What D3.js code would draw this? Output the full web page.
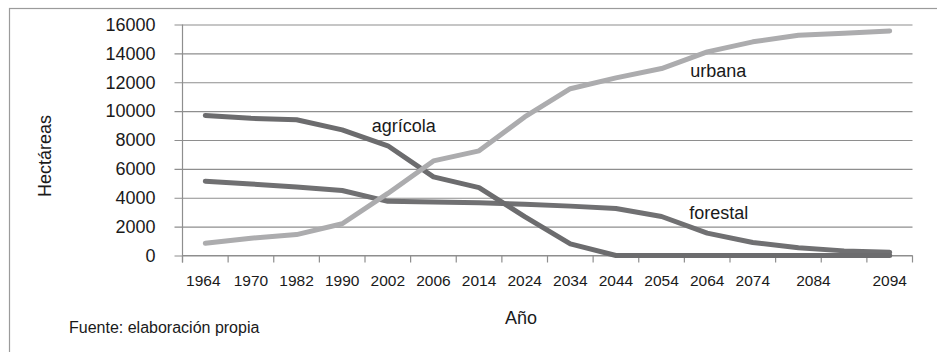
<!DOCTYPE html>
<html>
<head>
<meta charset="utf-8">
<script src="https://cdn.jsdelivr.net/npm/d3@7"></script>
<style>
  html, body { margin: 0; padding: 0; background: #fff; }
  svg { display: block; font-family: "Liberation Sans", Arial, Helvetica, sans-serif; }
</style>
</head>
<body>
<svg id="chart" width="937" height="352"></svg>
<script>
// Superficie por uso del suelo (hectáreas), serie observada y proyectada
const tickLabels = ["1964","1970","1982","1990","2002","2006","2014","2024","2034","2044","2054","2064","2074","2084","","2094"];
const agricola = [9700, 9500, 9400, 8700, 7600, 5450, 4700, 2700, 800, 0, 0, 0, 0, 0, 0, 0];
const forestal = [5150, 4950, 4750, 4500, 3750, 3700, 3650, 3550, 3420, 3260, 2700, 1550, 900, 540, 320, 220];
const urbana   = [850, 1200, 1450, 2200, 4300, 6550, 7250, 9600, 11550, 12300, 12950, 14100, 14800, 15250, 15400, 15550];
const yTicks = [0, 2000, 4000, 6000, 8000, 10000, 12000, 14000, 16000];

const svg = d3.select("#chart");
const W = 937, H = 352;

const plot = { left: 182.5, right: 912.5, top: 24.5, bottom: 255.5 };

const x = d3.scaleBand().domain(d3.range(tickLabels.length)).range([plot.left, plot.right]).padding(0);
const y = d3.scaleLinear().domain([0, 16000]).range([plot.bottom, plot.top]);
const cx = i => x(i) + x.bandwidth() / 2;

// outer frame
svg.append("rect")
  .attr("x", 9.5).attr("y", 8.5).attr("width", W + 50).attr("height", H + 50)
  .attr("fill", "none").attr("stroke", "#9b9b9b").attr("stroke-width", 1.2);

// horizontal gridlines with left tick marks
const yAxis = d3.axisLeft(y).tickValues(yTicks)
  .tickSize(-(plot.right - plot.left)).tickPadding(20).tickFormat(d3.format("d"));
const gy = svg.append("g").attr("transform", `translate(${plot.left},0)`).call(yAxis);
gy.select(".domain").remove();
gy.selectAll(".tick line").attr("stroke", "#8e8e8e").attr("stroke-width", 1.2).attr("x1", -8);
gy.selectAll(".tick text").attr("fill", "#1a1a1a").attr("font-size", 18).attr("x", -27);

// vertical axis line
svg.append("line")
  .attr("x1", plot.left).attr("x2", plot.left)
  .attr("y1", plot.top).attr("y2", plot.bottom + 7)
  .attr("stroke", "#8e8e8e").attr("stroke-width", 1.2);

// category axis: ticks between categories
const gx = svg.append("g").attr("transform", `translate(0,${plot.bottom})`);
gx.append("line").attr("x1", plot.left).attr("x2", plot.right).attr("stroke", "#8e8e8e").attr("stroke-width", 1.2);
const bounds = d3.range(tickLabels.length + 1).map(i => plot.left + i * x.bandwidth());
gx.selectAll("line.tk").data(bounds).join("line").attr("class", "tk")
  .attr("x1", d => d).attr("x2", d => d).attr("y1", 0).attr("y2", 7)
  .attr("stroke", "#8e8e8e").attr("stroke-width", 1.2);
gx.selectAll("text.lbl").data(tickLabels).join("text").attr("class", "lbl")
  .attr("x", (d, i) => cx(i) + (d === "2084" ? x.bandwidth() * 0.33 : (d === "1964" ? -2 : 0)))
  .attr("y", 30)
  .attr("text-anchor", "middle")
  .attr("font-size", 15.5).attr("fill", "#1a1a1a")
  .text(d => d);

// series lines
const line = d3.line().x((d, i) => cx(i)).y(d => y(d)).curve(d3.curveLinear);
const series = [
  { name: "forestal", values: forestal, color: "#707072" },
  { name: "agrícola", values: agricola, color: "#6c6c6e" },
  { name: "urbana", values: urbana, color: "#acacae" }
];
svg.selectAll("path.series").data(series).join("path").attr("class", "series")
  .attr("d", s => line(s.values))
  .attr("fill", "none").attr("stroke", s => s.color)
  .attr("stroke-width", 5).attr("stroke-linejoin", "round").attr("stroke-linecap", "round");

// series labels placed near their lines
const labelFont = 18;
svg.append("text").attr("x", cx(4) - 16).attr("y", y(9000)).attr("dy", "0.35em")
  .attr("font-size", labelFont).attr("fill", "#1a1a1a").text("agrícola");
svg.append("text").attr("x", cx(11) - 17).attr("y", y(12800)).attr("dy", "0.35em")
  .attr("font-size", labelFont).attr("fill", "#1a1a1a").text("urbana");
svg.append("text").attr("x", cx(11) - 18).attr("y", y(2950)).attr("dy", "0.35em")
  .attr("font-size", labelFont).attr("fill", "#1a1a1a").text("forestal");

// axis titles
svg.append("text").attr("transform", `translate(51,156) rotate(-90)`)
  .attr("text-anchor", "middle").attr("font-size", 18).attr("fill", "#1a1a1a").text("Hectáreas");
svg.append("text").attr("x", 521).attr("y", 324)
  .attr("text-anchor", "middle").attr("font-size", 18).attr("fill", "#1a1a1a").text("Año");

// source note
svg.append("text").attr("x", 69).attr("y", 333)
  .attr("font-size", 16).attr("fill", "#1a1a1a").text("Fuente: elaboración propia");
</script>
</body>
</html>
